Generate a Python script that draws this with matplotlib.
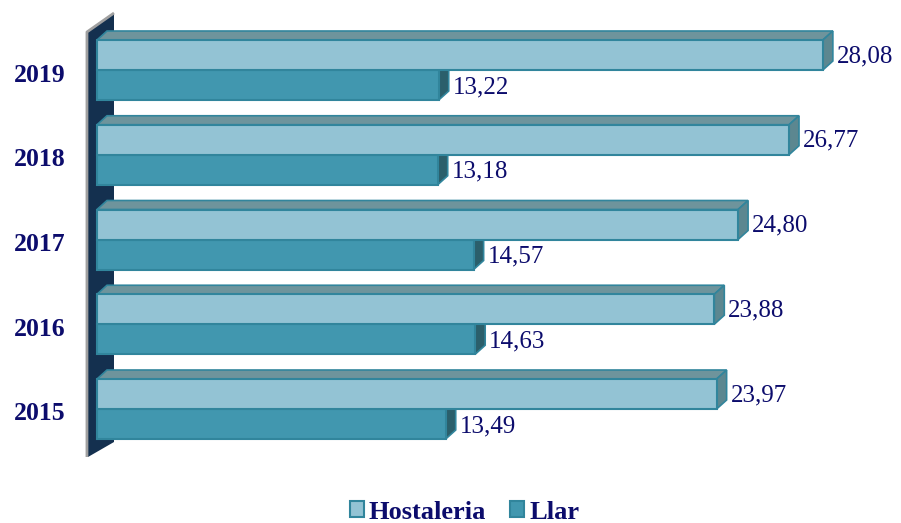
import matplotlib
matplotlib.use("Agg")
import matplotlib.pyplot as plt
from matplotlib.patches import Polygon, Rectangle

years = ["2015", "2016", "2017", "2018", "2019"]
hostaleria = [23.97, 23.88, 24.80, 26.77, 28.08]
llar = [13.49, 14.63, 14.57, 13.18, 13.22]
labels_h = ["23,97", "23,88", "24,80", "26,77", "28,08"]
labels_l = ["13,49", "14,63", "14,57", "13,18", "13,22"]
series_names = ["Hostaleria", "Llar"]

W, H = 901, 523
fig = plt.figure(figsize=(W / 100, H / 100), dpi=100)
ax = fig.add_axes([0, 0, 1, 1])
ax.set_axis_off()

# scales: value -> pixel, category -> pixel
px_per_val = 25.85
x0_px = 97
px_per_cat = 84.75
cat0_px = 409
n = len(years)
top_px = cat0_px - (n - 1) * px_per_cat
ax.set_xlim(-x0_px / px_per_val, (W - x0_px) / px_per_val)
ax.set_ylim(-(H - cat0_px) / px_per_cat, (n - 1) + top_px / px_per_cat)

bh = 30 / px_per_cat
dx = 10 / px_per_val
dy = 9 / px_per_cat

navy = "#0c0c6c"
edge = "#31859c"
front_h, top_h, side_h = "#93c3d4", "#6e949c", "#5c8790"
front_l, top_l, side_l = "#4197af", "#4c7f8c", "#2b5f6b"

# wall
wall_top = (n - 1) + (top_px - 32) / px_per_cat
wall_bot = -bh - 18 / px_per_cat
wx0 = -9 / px_per_val
wdx = 26 / px_per_val
wdy = 19 / px_per_cat
wall = Polygon([(wx0, wall_bot), (wx0, wall_top), (wx0 + wdx, wall_top + wdy),
                (wx0 + wdx, wall_bot + 15 / px_per_cat)], closed=True,
               facecolor="#14304f", edgecolor="none", zorder=1)
ax.add_patch(wall)
ax.plot([wx0 - 0.04, wx0 - 0.04, wx0 + wdx], [wall_bot, wall_top, wall_top + wdy],
        color="#a0a0a0", lw=2, zorder=1.5, solid_capstyle="butt")


def bar3d(y0, val, front, top, side, z):
    ax.add_patch(Polygon([(0, y0 + bh), (dx, y0 + bh + dy), (val + dx, y0 + bh + dy), (val, y0 + bh)],
                         closed=True, facecolor=top, edgecolor=edge, lw=1.2, zorder=z))
    ax.add_patch(Polygon([(val, y0), (val + dx, y0 + dy), (val + dx, y0 + bh + dy), (val, y0 + bh)],
                         closed=True, facecolor=side, edgecolor=edge, lw=1.2, zorder=z))
    ax.add_patch(Rectangle((0, y0), val, bh, facecolor=front, edgecolor=edge, lw=1.5, zorder=z + 0.1))


for i, (h, l) in enumerate(zip(hostaleria, llar)):
    bar3d(i - bh, l, front_l, top_l, side_l, 2 + i * 0.5)
    bar3d(i, h, front_h, top_h, side_h, 2.2 + i * 0.5)
    ax.text(h + dx + 0.15, i + bh / 2 - 1 / px_per_cat, labels_h[i], ha="left", va="center",
            fontsize=18, color=navy, family="Liberation Serif", zorder=5)
    ax.text(l + dx + 0.15, i - bh / 2 - 2 / px_per_cat, labels_l[i], ha="left", va="center",
            fontsize=18, color=navy, family="Liberation Serif", zorder=5)
    ax.text(-1.22, i - 5 / px_per_cat, years[i], ha="right", va="center", fontsize=18.5,
            fontweight="bold", color=navy, family="Liberation Serif")

handles = [Rectangle((0, 0), 1, 1, facecolor=front_h, edgecolor=edge, lw=1.5),
           Rectangle((0, 0), 1, 1, facecolor=front_l, edgecolor=edge, lw=1.5)]
leg = fig.legend(handles, series_names, loc="center", bbox_to_anchor=(0.5155, 0.021), ncol=2,
                 frameon=False, handlelength=0.53, handleheight=0.53, handletextpad=0.2,
                 columnspacing=0.9, borderpad=0,
                 prop={"family": "Liberation Serif", "weight": "bold", "size": 19})
for t in leg.get_texts():
    t.set_color(navy)

fig.savefig("out.png", dpi=100)
